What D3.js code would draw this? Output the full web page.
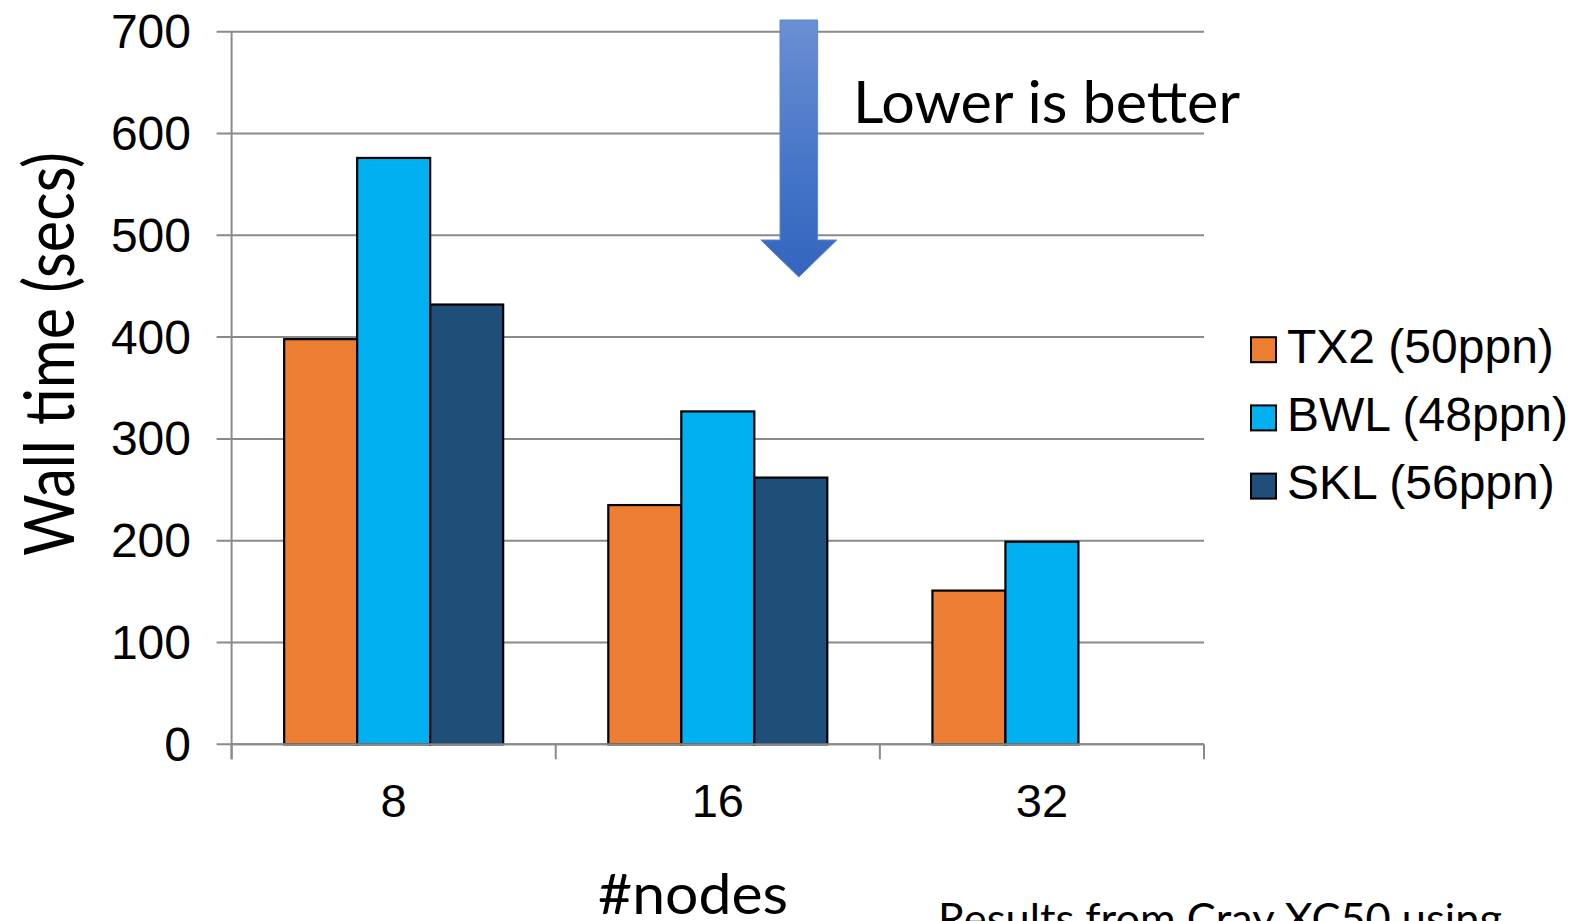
<!DOCTYPE html>
<html>
<head>
<meta charset="utf-8">
<script src="https://cdn.jsdelivr.net/npm/d3@7"></script>
<style>
  html, body { margin: 0; padding: 0; background: #fff; overflow: hidden; }
  svg { display: block; }
</style>
</head>
<body>
<svg id="chart" width="1593" height="921"></svg>
<script>
// Node counts on the x axis
const categories = ["8", "16", "32"];
// Series names and their wall times in seconds, one value per node count
const seriesNames = ["TX2 (50ppn)", "BWL (48ppn)", "SKL (56ppn)"];
const tx2Values = [398, 235, 151];
const bwlValues = [576, 327, 199];
const sklValues = [432, 262, null];
const seriesColors = ["#ED7D31", "#00B0F0", "#1F4E79"];
// Y axis tick values
const yTicks = [0, 100, 200, 300, 400, 500, 600, 700];

const seriesValues = [tx2Values, bwlValues, sklValues];

const svg = d3.select("#chart");
const plot = { left: 231.6, right: 1204, top: 31.7, bottom: 744.3 };
const grey = "#8a8a8a";

const x0 = d3.scaleBand().domain(categories).range([plot.left, plot.right]).paddingInner(0).paddingOuter(0);
const x1 = d3.scaleBand().domain(seriesNames).range([0, x0.bandwidth()]).paddingInner(0).paddingOuter(0.72);
const y = d3.scaleLinear().domain([0, 700]).range([plot.bottom, plot.top]);

// Horizontal gridlines, extending left of the axis as tick marks
svg.append("g").selectAll("line").data(yTicks).join("line")
  .attr("x1", plot.left - 15).attr("x2", plot.right)
  .attr("y1", d => y(d)).attr("y2", d => y(d))
  .attr("stroke", grey).attr("stroke-width", 2);

// Y tick labels
svg.append("g").selectAll("text").data(yTicks).join("text")
  .attr("x", 191).attr("y", d => y(d) + 16.5)
  .attr("text-anchor", "end")
  .attr("font-family", "'Liberation Sans', Arial, sans-serif")
  .attr("font-size", 48).attr("fill", "#000")
  .text(d => d);

// Vertical axis line
svg.append("line")
  .attr("x1", plot.left).attr("x2", plot.left)
  .attr("y1", y(700)).attr("y2", plot.bottom + 15)
  .attr("stroke", grey).attr("stroke-width", 2);

// Category boundary ticks below the x axis
const boundaries = categories.map(c => x0(c) + x0.bandwidth()).concat([plot.left]);
svg.append("g").selectAll("line").data(boundaries).join("line")
  .attr("x1", d => d).attr("x2", d => d)
  .attr("y1", plot.bottom).attr("y2", plot.bottom + 15)
  .attr("stroke", grey).attr("stroke-width", 2);

// Bars
const barData = [];
categories.forEach((c, ci) => {
  seriesNames.forEach((s, si) => {
    const v = seriesValues[si][ci];
    if (v != null) barData.push({ c, s, v, color: seriesColors[si] });
  });
});
svg.append("g").selectAll("rect").data(barData).join("rect")
  .attr("x", d => x0(d.c) + x1(d.s))
  .attr("y", d => y(d.v))
  .attr("width", x1.bandwidth())
  .attr("height", d => y(0) - y(d.v))
  .attr("fill", d => d.color)
  .attr("stroke", "#000").attr("stroke-width", 2.2);

// X axis baseline drawn over bar bottoms
svg.append("line")
  .attr("x1", plot.left).attr("x2", plot.right)
  .attr("y1", plot.bottom).attr("y2", plot.bottom)
  .attr("stroke", grey).attr("stroke-width", 2);

// X tick labels
svg.append("g").selectAll("text").data(categories).join("text")
  .attr("x", d => x0(d) + x0.bandwidth() / 2).attr("y", 817)
  .attr("text-anchor", "middle")
  .attr("font-family", "'Liberation Sans', Arial, sans-serif")
  .attr("font-size", 47).attr("fill", "#000")
  .text(d => d);

const bodyFont = "Lato, 'Open Sans', sans-serif";

// Axis titles
svg.append("text")
  .attr("transform", "translate(73.5,354) rotate(-90)")
  .attr("text-anchor", "middle")
  .attr("font-family", bodyFont).attr("font-size", 70)
  .attr("textLength", 404).attr("lengthAdjust", "spacingAndGlyphs")
  .attr("fill", "#000")
  .text("Wall time (secs)");

svg.append("text")
  .attr("x", 693).attr("y", 914)
  .attr("text-anchor", "middle")
  .attr("font-family", bodyFont).attr("font-size", 57)
  .attr("textLength", 190).attr("lengthAdjust", "spacingAndGlyphs")
  .attr("fill", "#000")
  .text("#nodes");

// Footnote, partly below the canvas edge
svg.append("text")
  .attr("x", 938).attr("y", 934)
  .attr("font-family", bodyFont).attr("font-size", 43)
  .attr("textLength", 564).attr("lengthAdjust", "spacingAndGlyphs")
  .attr("fill", "#000")
  .text("Results from Cray XC50 using");

// Legend
const legendRows = svg.append("g").selectAll("g").data(seriesNames).join("g")
  .attr("transform", (d, i) => "translate(0," + (362.7 + i * 68.2) + ")");
legendRows.append("rect")
  .attr("x", 1251).attr("y", -25.5).attr("width", 25).attr("height", 25)
  .attr("fill", (d, i) => seriesColors[i])
  .attr("stroke", "#000").attr("stroke-width", 2);
legendRows.append("text")
  .attr("x", 1287).attr("y", 0)
  .attr("font-family", "'Liberation Sans', Arial, sans-serif")
  .attr("font-size", 48).attr("fill", "#000")
  .text(d => d);

// "Lower is better" annotation arrow
const defs = svg.append("defs");
const grad = defs.append("linearGradient").attr("id", "arrowGrad")
  .attr("x1", 0).attr("y1", 0).attr("x2", 0).attr("y2", 1);
grad.append("stop").attr("offset", "0%").attr("stop-color", "#6b8fd3");
grad.append("stop").attr("offset", "60%").attr("stop-color", "#4474c8");
grad.append("stop").attr("offset", "100%").attr("stop-color", "#3464bd");

const arrow = { cx: 798.8, shaftHalf: 18.8, headHalf: 38, top: 20, headBase: 240, tip: 277 };
const p = d3.path();
p.moveTo(arrow.cx - arrow.shaftHalf, arrow.top);
p.lineTo(arrow.cx + arrow.shaftHalf, arrow.top);
p.lineTo(arrow.cx + arrow.shaftHalf, arrow.headBase);
p.lineTo(arrow.cx + arrow.headHalf, arrow.headBase);
p.lineTo(arrow.cx, arrow.tip);
p.lineTo(arrow.cx - arrow.headHalf, arrow.headBase);
p.lineTo(arrow.cx - arrow.shaftHalf, arrow.headBase);
p.closePath();
svg.append("path").attr("d", p.toString())
  .attr("fill", "url(#arrowGrad)")
  .attr("stroke", "#5b86d0").attr("stroke-width", 1);

svg.append("text")
  .attr("x", 853).attr("y", 123.3)
  .attr("font-family", bodyFont).attr("font-size", 58)
  .attr("textLength", 387).attr("lengthAdjust", "spacingAndGlyphs")
  .attr("fill", "#000")
  .text("Lower is better");
</script>
</body>
</html>
